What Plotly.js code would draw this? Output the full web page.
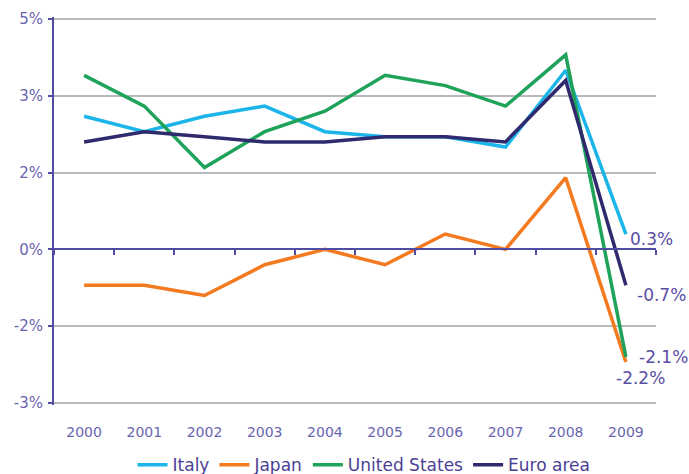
<!DOCTYPE html>
<html>
<head>
<meta charset="utf-8">
<script src="https://cdn.plot.ly/plotly-3.0.1.min.js"></script>
<style>html,body{margin:0;padding:0;background:#fff;}#chart{width:689px;height:474px;}</style>
</head>
<body>
<div id="chart"></div>
<script>
const years = ['2000','2001','2002','2003','2004','2005','2006','2007','2008','2009'];
const italy = [2.6, 2.3, 2.6, 2.8, 2.3, 2.2, 2.2, 2.0, 3.5, 0.3];
const japan = [-0.7, -0.7, -0.9, -0.3, 0.0, -0.3, 0.3, 0.0, 1.4, -2.2];
const unitedStates = [3.4, 2.8, 1.6, 2.3, 2.7, 3.4, 3.2, 2.8, 3.8, -2.1];
const euroArea = [2.1, 2.3, 2.2, 2.1, 2.1, 2.2, 2.2, 2.1, 3.3, -0.7];
const yTickVals = [-3, -1.5, 0, 1.5, 3, 4.5];
const yTickText = ['-3%', '-2%', '0%', '2%', '3%', '5%'];
const seriesNames = ['Italy', 'Japan', 'United States', 'Euro area'];

const colors = ['#1cb5ea', '#f47a20', '#1fa35a', '#2f2a6d'];
const series = [italy, japan, unitedStates, euroArea];
const axisColor = '#514ca3';
const textColor = '#6a65b0';
const font = 'DejaVu Sans, Verdana, sans-serif';

const yMin = -3.04, yMax = 4.54;

const traces = series.map((vals, i) => ({
  type: 'scatter', mode: 'lines',
  x: years, y: vals, name: seriesNames[i],
  line: {color: colors[i], width: 3.5},
  xaxis: i === 3 ? 'x2' : 'x',
  yaxis: 'y',
  hoverinfo: 'x+y+name'
}));

const last = years.length - 1;
const labelOffsets = [
  {xshift: 2, yshift: -5},
  {xshift: -12, yshift: -16},
  {xshift: 11, yshift: 0},
  {xshift: 9, yshift: -10}
];
const annotations = series.map((vals, i) => ({
  x: last, y: vals[last], xref: 'x', yref: 'y',
  text: vals[last].toFixed(1) + '%',
  showarrow: false, xanchor: 'left', yanchor: 'middle',
  xshift: labelOffsets[i].xshift, yshift: labelOffsets[i].yshift,
  font: {family: font, size: 17, color: '#5a4ea3'}
}));

const layout = {
  width: 689, height: 474,
  margin: {l: 54, r: 33, t: 17, b: 69, autoexpand: false},
  paper_bgcolor: '#ffffff', plot_bgcolor: '#ffffff',
  showlegend: true,
  legend: {
    orientation: 'h', x: 0.515, xanchor: 'center',
    y: -0.155, yanchor: 'middle',
    font: {family: font, size: 17, color: '#4a3f94'},
    itemwidth: 30, tracegroupgap: 0
  },
  xaxis: {
    type: 'category', showgrid: false, showline: false, zeroline: false,
    ticks: 'outside', ticklen: 14, tickcolor: 'rgba(0,0,0,0)',
    tickfont: {family: font, size: 14, color: textColor},
    range: [-0.5, 9.5], fixedrange: true
  },
  xaxis2: {
    type: 'category', overlaying: 'x', anchor: 'free', position: (0 - yMin) / (yMax - yMin),
    showgrid: false, zeroline: false, showticklabels: false,
    showline: true, linecolor: axisColor, linewidth: 2,
    ticks: 'outside', tickson: 'boundaries', ticklen: 5, tickwidth: 2, tickcolor: axisColor,
    range: [-0.5, 9.5], fixedrange: true
  },
  yaxis: {
    range: [yMin, yMax], tickvals: yTickVals, ticktext: yTickText,
    showgrid: true, gridcolor: '#b9b9bd', gridwidth: 2,
    zeroline: false,
    showline: true, linecolor: axisColor, linewidth: 2,
    ticks: 'outside', ticklen: 4, tickwidth: 2, tickcolor: axisColor,
    ticklabelstandoff: 2,
    tickfont: {family: font, size: 15, color: textColor},
    fixedrange: true
  },
  annotations: annotations
};

Plotly.newPlot('chart', traces, layout, {displayModeBar: false, staticPlot: true});
</script>
</body>
</html>
